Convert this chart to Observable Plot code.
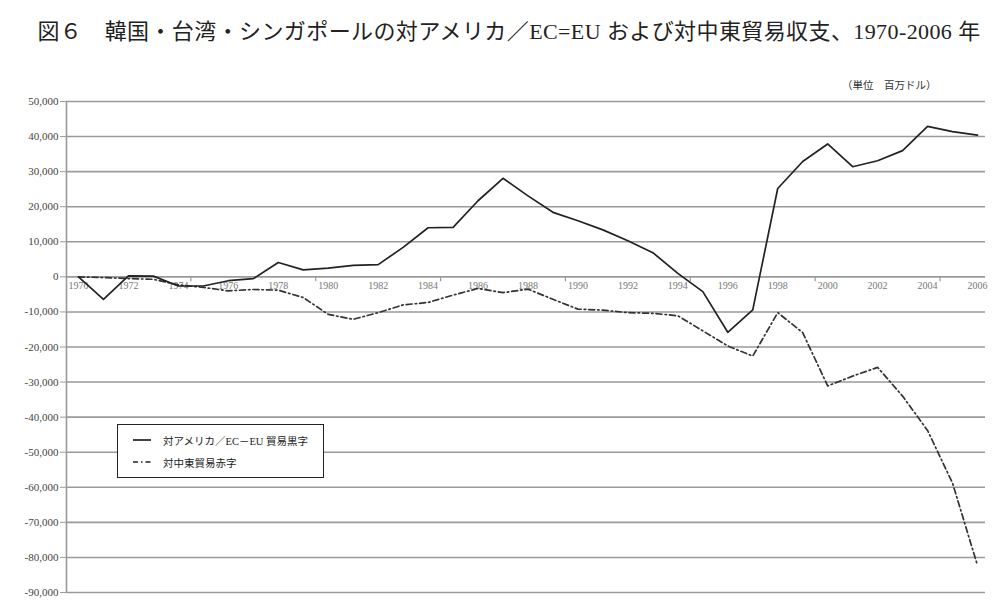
<!DOCTYPE html>
<html>
<head>
<meta charset="utf-8">
<script src="https://cdn.jsdelivr.net/npm/d3@7"></script>
<script src="https://cdn.jsdelivr.net/npm/@observablehq/plot@0.6"></script>
<style>
  html, body { margin: 0; padding: 0; background: #fff; }
  #wrap { position: relative; width: 1004px; height: 611px; overflow: hidden; font-family: "Liberation Serif", "Noto Sans CJK JP", serif; }
  #title { position: absolute; left: 7px; top: 14px; width: 1004px; text-align: center; font-size: 22px; letter-spacing: 0.4px; color: #222; line-height: 36px; white-space: nowrap; z-index: 2; }
  #unit { position: absolute; left: 842px; top: 77px; font-size: 10.5px; color: #333; white-space: nowrap; z-index: 2; }
  #chart { position: absolute; left: 0; top: 62px; z-index: 1; }
  #legend { position: absolute; left: 117px; top: 424px; width: 205px; height: 52px; border: 1.5px solid #222; background: #fff; font-size: 10.5px; color: #222; z-index: 3; }
  .row { position: absolute; left: 15px; display: flex; align-items: center; white-space: nowrap; }
  .row svg { margin-right: 12px; }
</style>
</head>
<body>
<div id="wrap">
  <div id="title">図６　韓国・台湾・シンガポールの対アメリカ／EC=EU および対中東貿易収支、1970-2006 年</div>
  <div id="unit">（単位　百万ドル）</div>
  <div id="chart"></div>
  <div id="legend"></div>
</div>
<script>
const years = [1970,1971,1972,1973,1974,1975,1976,1977,1978,1979,1980,1981,1982,1983,1984,1985,1986,1987,1988,1989,1990,1991,1992,1993,1994,1995,1996,1997,1998,1999,2000,2001,2002,2003,2004,2005,2006];
const surplus = [0,-6400,300,200,-2600,-2600,-1100,-500,4100,2000,2500,3300,3500,8400,14000,14100,21700,28100,23100,18400,16000,13400,10300,6900,1000,-4200,-15800,-9400,25200,32900,37900,31400,33100,36000,42900,41400,40400];
const deficit = [0,-200,-500,-700,-2300,-3000,-4000,-3600,-3800,-5900,-10700,-12100,-10200,-8000,-7300,-5200,-3300,-4500,-3500,-6400,-9200,-9500,-10200,-10400,-11100,-15400,-19700,-22600,-10200,-15900,-31100,-28300,-25800,-34000,-43800,-58800,-82300];
const yTicks = [50000,40000,30000,20000,10000,0,-10000,-20000,-30000,-40000,-50000,-60000,-70000,-80000,-90000];
const xLabels = [1970,1972,1974,1976,1978,1980,1982,1984,1986,1988,1990,1992,1994,1996,1998,2000,2002,2004,2006];
const xTickMarks = [1974.5,1979.5,1984.5,1989.5,1994.5,1999.5,2004.5];
const seriesNames = ["対アメリカ／EC－EU 貿易黒字", "対中東貿易赤字"];

const solidData = years.map((y, i) => ({year: y, value: surplus[i]}));
const dashData = years.map((y, i) => ({year: y, value: deficit[i]}));
const dashPattern = "6,3,1.5,3";

const fmt = d => d.toLocaleString("en-US");

const chart = Plot.plot({
  width: 1004,
  height: 549,
  marginTop: 39,
  marginBottom: 19,
  marginLeft: 66,
  marginRight: 19,
  x: {domain: [1970, 2006], insetLeft: 12, insetRight: 8, axis: null},
  y: {domain: [-90000, 50000], axis: null},
  style: {fontFamily: "'Liberation Serif', 'Noto Sans CJK JP', serif", background: "#fff"},
  marks: [
    Plot.ruleY(yTicks, {stroke: "#9a9a9a", strokeWidth: 1.6}),
    Plot.ruleX([1970], {dx: -12, y1: -90000, y2: 50000, stroke: "#9a9a9a", strokeWidth: 1.6}),
    Plot.axisY({ticks: yTicks, tickFormat: fmt, tickSize: 6, tickPadding: 2, fontSize: 11, stroke: "#9a9a9a", fill: "#444", label: null}),
    Plot.ruleX(xTickMarks, {y1: 0, y2: -1400, stroke: "#9a9a9a", strokeWidth: 1.2}),
    Plot.text(xLabels, {x: d => d, y: 0, dy: 9, text: d => String(d), fontSize: 10, fill: "#777"}),
    Plot.line(dashData, {x: "year", y: "value", stroke: "#333", strokeWidth: 1.7, strokeDasharray: dashPattern}),
    Plot.line(solidData, {x: "year", y: "value", stroke: "#222", strokeWidth: 1.7})
  ]
});
document.getElementById("chart").appendChild(chart);

// legend
const legend = document.getElementById("legend");
const styles = [{dash: null}, {dash: "5,3,1.5,3"}];
seriesNames.forEach((name, i) => {
  const row = document.createElement("div");
  row.className = "row";
  row.style.top = (i === 0 ? 7 : 29) + "px";
  row.style.height = "16px";
  const dash = styles[i].dash ? ` stroke-dasharray="${styles[i].dash}"` : "";
  row.innerHTML = `<svg width="18" height="6"><line x1="0" y1="3" x2="18" y2="3" stroke="#222" stroke-width="1.7"${dash}/></svg><span>${name}</span>`;
  legend.appendChild(row);
});
</script>
</body>
</html>
